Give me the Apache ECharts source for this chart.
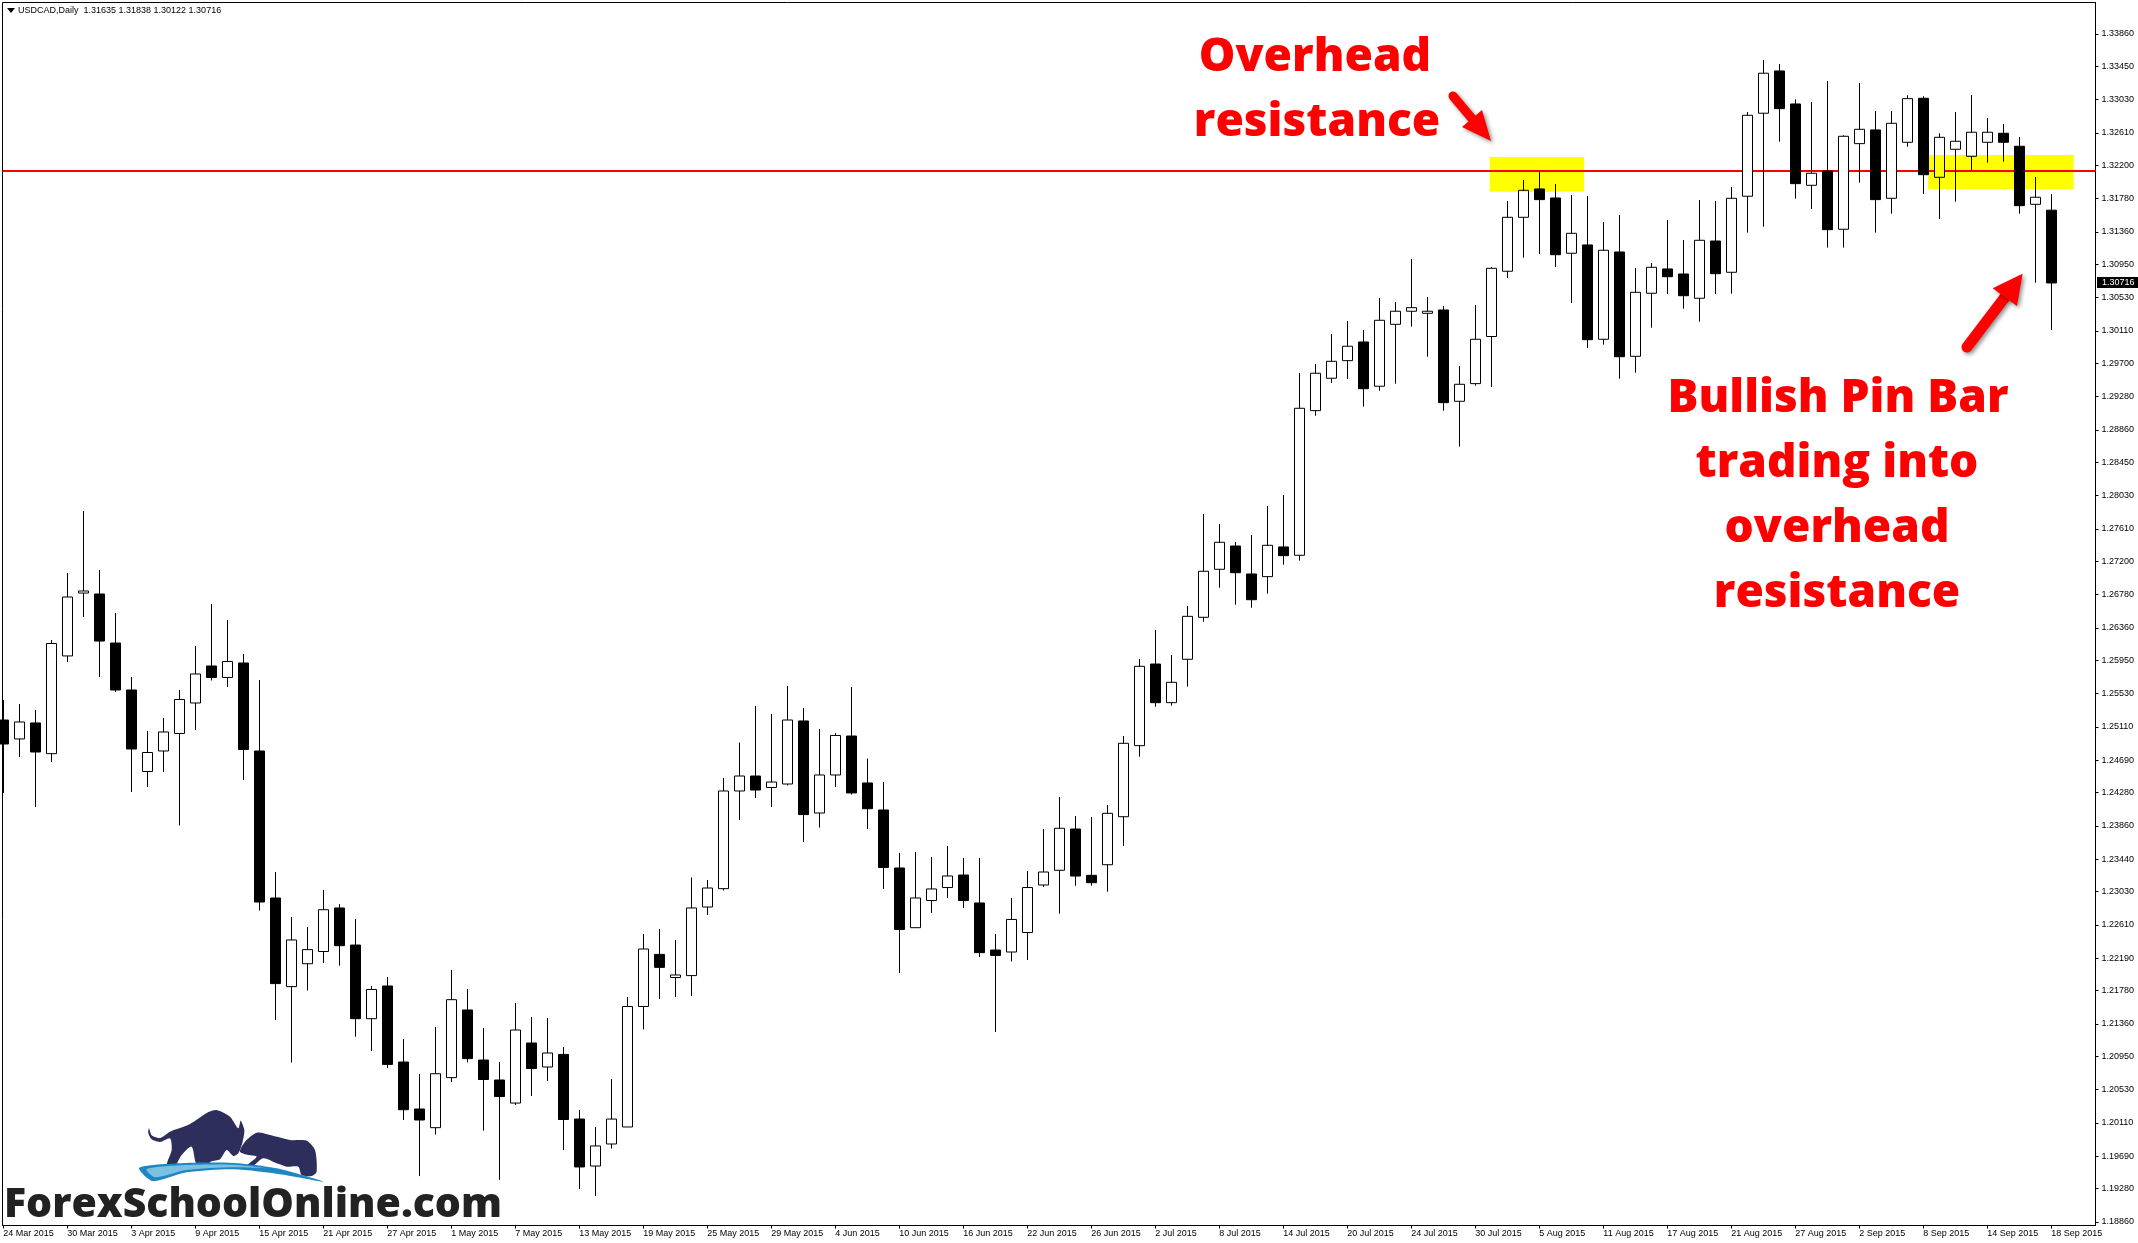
<!DOCTYPE html>
<html>

<head>
    <meta charset="utf-8">
    <style>
        html, body { margin: 0; padding: 0; background: #fff; }
    </style>
    <script src="https://cdn.jsdelivr.net/npm/echarts@6/dist/echarts.min.js"></script>
</head>

<body>
    <div id="main" style="width:2138px;height:1243px;"></div>

    <script>
        var symbolName = 'USDCAD,Daily';

        var opens = [
            1.25198, 1.24959, 1.25161, 1.24773, 1.26007, 1.26801, 1.26789, 1.26170, 1.25577, 1.24548,
            1.24807, 1.25028, 1.25413, 1.25880, 1.25735, 1.25918, 1.24807, 1.22951, 1.21832, 1.22121,
            1.22275, 1.22825, 1.22357, 1.21427, 1.21840, 1.20880, 1.20287, 1.20051, 1.20683, 1.21537,
            1.20905, 1.20653, 1.20362, 1.21120, 1.20817, 1.20976, 1.20160, 1.19567, 1.19845, 1.20060,
            1.21581, 1.22239, 1.21947, 1.21971, 1.22837, 1.23069, 1.24302, 1.24491, 1.24346, 1.24390,
            1.25186, 1.24024, 1.24504, 1.24996, 1.24403, 1.24062, 1.23330, 1.22576, 1.22919, 1.23083,
            1.23241, 1.22888, 1.22294, 1.22269, 1.22515, 1.23115, 1.23301, 1.23822, 1.23237, 1.23371,
            1.23977, 1.24874, 1.25905, 1.25417, 1.25965, 1.26495, 1.27101, 1.27395, 1.27042, 1.27008,
            1.27383, 1.27278, 1.29104, 1.29513, 1.29735, 1.29971, 1.29412, 1.30194, 1.30359, 1.30333,
            1.30375, 1.29222, 1.29445, 1.30040, 1.30864, 1.31545, 1.31903, 1.31789, 1.31091, 1.31196,
            1.30005, 1.31107, 1.29790, 1.30586, 1.30893, 1.30829, 1.30523, 1.31246, 1.30851, 1.31811,
            1.32859, 1.33393, 1.32976, 1.31949, 1.32130, 1.31394, 1.32475, 1.32648, 1.31785, 1.32492,
            1.33048, 1.32050, 1.32404, 1.32315, 1.32492, 1.32606, 1.32442, 1.31709, 1.31635
        ];
        var closes = [
            1.24895, 1.25173, 1.24794, 1.26164, 1.26751, 1.26827, 1.26195, 1.25577, 1.24832, 1.24788,
            1.25047, 1.25457, 1.25779, 1.25735, 1.25937, 1.24826, 1.22900, 1.21870, 1.22421, 1.22299,
            1.22803, 1.22349, 1.21427, 1.21796, 1.20850, 1.20278, 1.20148, 1.20732, 1.21667, 1.20923,
            1.20659, 1.20444, 1.21284, 1.20798, 1.20994, 1.20154, 1.19555, 1.19820, 1.20160, 1.21581,
            1.22307, 1.22075, 1.21979, 1.22825, 1.23077, 1.24302, 1.24491, 1.24314, 1.24415, 1.25198,
            1.24004, 1.24504, 1.25003, 1.24277, 1.24078, 1.23337, 1.22553, 1.22951, 1.23065, 1.23229,
            1.22919, 1.22261, 1.22225, 1.22680, 1.23083, 1.23279, 1.23831, 1.23228, 1.23144, 1.24020,
            1.24904, 1.25876, 1.25417, 1.25674, 1.26507, 1.27076, 1.27442, 1.27058, 1.26717, 1.27404,
            1.27273, 1.29134, 1.29576, 1.29727, 1.29917, 1.29381, 1.30245, 1.30359, 1.30404, 1.30359,
            1.29205, 1.29437, 1.30005, 1.30901, 1.31545, 1.31886, 1.31768, 1.31073, 1.31343, 1.30000,
            1.31129, 1.29785, 1.30598, 1.30914, 1.30795, 1.30555, 1.31255, 1.30833, 1.31785, 1.32833,
            1.33364, 1.32917, 1.31970, 1.32101, 1.31389, 1.32568, 1.32656, 1.31768, 1.32732, 1.33043,
            1.32083, 1.32555, 1.32505, 1.32619, 1.32619, 1.32492, 1.31692, 1.31798, 1.30716
        ];
        var lows = [
            1.24276, 1.24731, 1.24100, 1.24668, 1.25930, 1.26498, 1.25741, 1.25552, 1.24289, 1.24352,
            1.24542, 1.23866, 1.25072, 1.25697, 1.25615, 1.24440, 1.22793, 1.21410, 1.20874, 1.21783,
            1.22130, 1.22097, 1.21200, 1.21019, 1.20804, 1.20148, 1.19440, 1.19965, 1.20627, 1.20874,
            1.20014, 1.19393, 1.20337, 1.20451, 1.20640, 1.19769, 1.19277, 1.19188, 1.19788, 1.20060,
            1.21291, 1.21676, 1.21701, 1.21713, 1.22737, 1.23045, 1.23936, 1.24213, 1.24100, 1.24370,
            1.23658, 1.23839, 1.24352, 1.24256, 1.23822, 1.23065, 1.22004, 1.22572, 1.22762, 1.22951,
            1.22825, 1.22206, 1.21259, 1.22149, 1.22168, 1.23090, 1.22753, 1.23106, 1.23106, 1.23030,
            1.23608, 1.24735, 1.25366, 1.25379, 1.25619, 1.26439, 1.26869, 1.26654, 1.26616, 1.26793,
            1.27159, 1.27210, 1.29040, 1.29453, 1.29504, 1.29154, 1.29356, 1.29444, 1.30164, 1.29785,
            1.29103, 1.28649, 1.29419, 1.29403, 1.30779, 1.31035, 1.31082, 1.30918, 1.30463, 1.29895,
            1.29937, 1.29508, 1.29583, 1.30151, 1.30577, 1.30391, 1.30227, 1.30577, 1.30581, 1.31351,
            1.31427, 1.32500, 1.31780, 1.31650, 1.31162, 1.31162, 1.31982, 1.31351, 1.31591, 1.32437,
            1.31840, 1.31524, 1.31742, 1.32134, 1.32235, 1.32247, 1.31591, 1.30720, 1.30122
        ];
        var highs = [
            1.25451, 1.25400, 1.25325, 1.26208, 1.27054, 1.27837, 1.27092, 1.26549, 1.25741, 1.25060,
            1.25224, 1.25577, 1.26132, 1.26662, 1.26460, 1.26032, 1.25703, 1.23279, 1.22711, 1.22585,
            1.23052, 1.22875, 1.22686, 1.21840, 1.21953, 1.21171, 1.20728, 1.21322, 1.22042, 1.21802,
            1.21309, 1.20880, 1.21625, 1.21448, 1.21436, 1.21070, 1.20274, 1.20060, 1.20665, 1.21701,
            1.22497, 1.22560, 1.22421, 1.23210, 1.23178, 1.24466, 1.24914, 1.25375, 1.25274, 1.25628,
            1.25350, 1.25085, 1.25034, 1.25615, 1.24712, 1.24415, 1.23520, 1.23532, 1.23469, 1.23608,
            1.23456, 1.23456, 1.22497, 1.22951, 1.23292, 1.23822, 1.24226, 1.23986, 1.23973, 1.24125,
            1.24996, 1.25968, 1.26335, 1.26019, 1.26638, 1.27799, 1.27673, 1.27446, 1.27534, 1.27900,
            1.28039, 1.29580, 1.29693, 1.30072, 1.30236, 1.30122, 1.30526, 1.30476, 1.31019, 1.30539,
            1.30425, 1.29668, 1.30438, 1.30918, 1.31751, 1.32016, 1.32130, 1.31966, 1.31827, 1.31814,
            1.31486, 1.31574, 1.30905, 1.30968, 1.31511, 1.31259, 1.31764, 1.31751, 1.31928, 1.32875,
            1.33531, 1.33481, 1.33035, 1.33001, 1.33266, 1.32581, 1.33241, 1.32888, 1.32888, 1.33086,
            1.33073, 1.32606, 1.32875, 1.33090, 1.32799, 1.32723, 1.32559, 1.32054, 1.31838
        ];

        // every 4th bar carries a date label
        var dateLabels = [
            '24 Mar 2015', '30 Mar 2015', '3 Apr 2015', '9 Apr 2015', '15 Apr 2015', '21 Apr 2015', '27 Apr 2015',
            '1 May 2015', '7 May 2015', '13 May 2015', '19 May 2015', '25 May 2015', '29 May 2015', '4 Jun 2015',
            '10 Jun 2015', '16 Jun 2015', '22 Jun 2015', '26 Jun 2015', '2 Jul 2015', '8 Jul 2015', '14 Jul 2015',
            '20 Jul 2015', '24 Jul 2015', '30 Jul 2015', '5 Aug 2015', '11 Aug 2015', '17 Aug 2015', '21 Aug 2015',
            '27 Aug 2015', '2 Sep 2015', '8 Sep 2015', '14 Sep 2015', '18 Sep 2015'
        ];
        var dateTicks = dateLabels.map(function (d, i) { return i * 4; });

        var priceTicks = [
            1.33860, 1.33450, 1.33030, 1.32610, 1.32200, 1.31780, 1.31360, 1.30950, 1.30530, 1.30110,
            1.29700, 1.29280, 1.28860, 1.28450, 1.28030, 1.27610, 1.27200, 1.26780, 1.26360, 1.25950,
            1.25530, 1.25110, 1.24690, 1.24280, 1.23860, 1.23440, 1.23030, 1.22610, 1.22190, 1.21780,
            1.21360, 1.20950, 1.20530, 1.20110, 1.19690, 1.19280, 1.18860
        ];

        var resistance = 1.32130;
        // yellow zones: first bar, last bar, top price, bottom price
        var zones = [
            [92.9, 98.8, 1.32307, 1.31869],
            [120.3, 129.4, 1.32332, 1.31903]
        ];

        var xMin = -0.05, xMax = 130.7625;
        var yMin = 1.18816, yMax = 1.34257;
        var last = opens.length - 1;

        var axisFont = '"Liberation Sans"';
        var noteFont = '800 46px "Open Sans"';
        var red = '#ff0000';

        function noteText(text, x, y) {
            return {
                type: 'text', x: x, y: y, z: 50,
                style: { text: text, font: noteFont, fill: red, textAlign: 'center', textVerticalAlign: 'middle' }
            };
        }

        function arrow(from, to, head, width) {
            var shadow = { shadowColor: 'rgba(0,0,0,0.45)', shadowBlur: 4, shadowOffsetX: 2, shadowOffsetY: 2 };
            return [
                {
                    type: 'line', z: 50,
                    shape: { x1: from[0], y1: from[1], x2: to[0], y2: to[1] },
                    style: Object.assign({ stroke: red, lineWidth: width, lineCap: 'round' }, shadow)
                },
                {
                    type: 'polygon', z: 51,
                    shape: { points: head },
                    style: Object.assign({ fill: red }, shadow)
                }
            ];
        }

        // logo drawn in zoomed coordinates, 3x with origin at 0,1100
        function logoPoly(points, fill, z) {
            return {
                type: 'polygon', z: z || 40,
                shape: {
                    points: points.map(function (p) { return [p[0] / 3, 1100 + p[1] / 3]; }),
                    smooth: 0.25
                },
                style: { fill: fill }
            };
        }

        var bull = [[447, 85], [455, 106], [480, 114], [510, 95], [570, 72], [625, 36], [650, 30], [690, 50], [715, 85], [722, 62],
            [733, 90], [728, 125], [715, 160], [700, 168], [680, 150], [660, 178], [632, 185], [625, 192], [590, 192], [575, 140],
            [545, 165], [525, 197], [500, 197], [515, 150], [510, 115], [480, 126], [455, 118], [445, 100]];
        var bear = [[720, 155], [735, 125], [770, 98], [810, 105], [870, 120], [920, 122], [945, 150], [950, 215], [935, 228],
            [905, 225], [895, 200], [860, 200], [830, 190], [790, 175], [760, 197], [740, 197], [770, 170], [745, 165]];
        var swoosh = [[418, 203], [560, 189], [700, 189], [830, 205], [970, 245], [850, 224], [700, 208], [560, 217], [458, 243]];
        var swooshInner = [[440, 207], [560, 195], [700, 194], [800, 205], [700, 202], [560, 210], [465, 232]];

        var graphics = [
            {
                type: 'polygon', z: 50,
                shape: { points: [[7, 8], [15, 8], [11, 13]] },
                style: { fill: '#000' }
            },
            {
                type: 'text', x: 18, y: 10.5, z: 50,
                style: {
                    text: symbolName + '  ' + [opens[last], highs[last], lows[last], closes[last]].map(function (v) { return v.toFixed(5); }).join(' '),
                    font: '9px ' + axisFont, fill: '#000', textVerticalAlign: 'middle'
                }
            },
            noteText('Overhead', 1315, 58),
            noteText('resistance', 1317, 123),
            noteText('Bullish Pin Bar', 1838, 399),
            noteText('trading into', 1837, 464),
            noteText('overhead', 1837, 529),
            noteText('resistance', 1837, 594),
            logoPoly(bull, '#2e2e5c'),
            logoPoly(bear, '#2e2e5c'),
            logoPoly(swoosh, '#1f86c6', 41),
            logoPoly(swooshInner, '#7cc0e0', 42),
            {
                type: 'text', x: 4, y: 1205, z: 43,
                style: { text: 'ForexSchoolOnline.com', font: '800 41px "Open Sans"', fill: '#222', textVerticalAlign: 'middle' }
            }
        ].concat(
            arrow([1453, 96], [1474, 121], [[1491, 141], [1462, 127], [1482, 110]], 9),
            arrow([1967, 347], [2005, 297], [[2022.6, 273.7], [1992.7, 288.3], [2017, 306]], 11)
        );

        var myChart = echarts.init(document.getElementById('main'));
        var option = {
            animation: false,
            backgroundColor: '#fff',
            graphic: graphics,
            grid: {
                show: true,
                left: 2.5,
                right: 42.5,
                top: 2.5,
                bottom: 17.5,
                borderColor: '#000',
                borderWidth: 1,
                backgroundColor: 'transparent'
            },
            xAxis: {
                type: 'value',
                min: xMin,
                max: xMax,
                splitLine: { show: false },
                axisLine: { show: true, onZero: false, lineStyle: { color: '#000', width: 1 } },
                axisTick: { show: true, length: 3, customValues: dateTicks, lineStyle: { color: '#000' } },
                axisLabel: {
                    customValues: dateTicks,
                    align: 'left',
                    margin: 4,
                    color: '#000',
                    fontFamily: axisFont,
                    fontSize: 9,
                    formatter: function (v) { return dateLabels[dateTicks.indexOf(v)]; }
                }
            },
            yAxis: {
                type: 'value',
                position: 'right',
                min: yMin,
                max: yMax,
                splitLine: { show: false },
                axisLine: { show: true, onZero: false, lineStyle: { color: '#000', width: 1 } },
                axisTick: { show: true, length: 3, customValues: priceTicks, lineStyle: { color: '#000' } },
                axisLabel: {
                    customValues: priceTicks,
                    margin: 6,
                    color: '#000',
                    fontFamily: axisFont,
                    fontSize: 9,
                    formatter: function (v) { return v.toFixed(5); }
                }
            },
            series: [
                {
                    name: 'resistance',
                    type: 'line',
                    z: 1,
                    silent: true,
                    symbol: 'none',
                    lineStyle: { color: red, width: 2 },
                    data: [[xMin, resistance], [xMax, resistance]]
                },
                {
                    name: 'USDCAD',
                    type: 'candlestick',
                    z: 2,
                    barWidth: 10,
                    itemStyle: {
                        color: '#fff',
                        color0: '#000',
                        borderColor: '#000',
                        borderColor0: '#000',
                        borderColorDoji: '#000',
                        borderWidth: 1
                    },
                    data: opens.map(function (o, i) { return [i, o, closes[i], lows[i], highs[i]]; })
                },
                {
                    name: 'zones',
                    type: 'custom',
                    z: 3,
                    silent: true,
                    blendMode: 'multiply',
                    encode: { x: [0, 1], y: [2, 3] },
                    renderItem: function (params, api) {
                        var a = api.coord([api.value(0), api.value(2)]);
                        var b = api.coord([api.value(1), api.value(3)]);
                        return {
                            type: 'rect',
                            shape: { x: a[0], y: a[1], width: b[0] - a[0], height: b[1] - a[1] },
                            style: { fill: '#ffff00' }
                        };
                    },
                    data: zones
                },
                {
                    name: 'last price',
                    type: 'custom',
                    z: 4,
                    silent: true,
                    renderItem: function (params, api) {
                        var p = api.coord([api.value(0), api.value(1)]);
                        return {
                            type: 'group',
                            children: [
                                {
                                    type: 'rect',
                                    shape: { x: p[0] + 1.5, y: p[1] - 6, width: 41, height: 11 },
                                    style: { fill: '#000' }
                                },
                                {
                                    type: 'text',
                                    x: p[0] + 6.5,
                                    y: p[1] - 0.5,
                                    style: {
                                        text: api.value(1).toFixed(5),
                                        font: '9px ' + axisFont,
                                        fill: '#fff',
                                        textVerticalAlign: 'middle'
                                    }
                                }
                            ]
                        };
                    },
                    data: [[xMax, closes[last]]]
                }
            ]
        };

        myChart.setOption(option);
    </script>
</body>

</html>
